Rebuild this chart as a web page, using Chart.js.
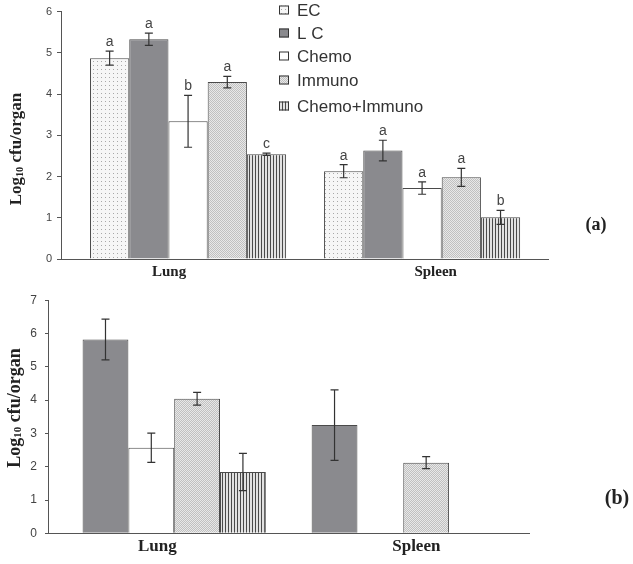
<!DOCTYPE html>
<html>
<head>
<meta charset="utf-8">
<script src="https://cdn.jsdelivr.net/npm/chart.js@4"></script>
<style>
  body { margin: 0; background: #fff; }
  #wrap { position: relative; width: 633px; height: 564px; overflow: hidden; }
  canvas { position: absolute; left: 0; }
  .ytitle {
    position: absolute; white-space: nowrap; color: #222;
    font-family: 'Liberation Serif', 'DejaVu Serif', serif; font-weight: bold;
    transform: translate(-50%, -50%) rotate(-90deg);
  }
  .ytitle sub { font-size: 0.6em; vertical-align: -0.15em; }
  .panel {
    position: absolute; color: #222;
    font-family: 'Liberation Serif', 'DejaVu Serif', serif; font-weight: bold;
    transform: translate(-50%, -50%);
  }
</style>
</head>
<body>
<div id="wrap">
  <canvas id="chartA" width="633" height="285" style="top:0"></canvas>
  <canvas id="chartB" width="633" height="279" style="top:285px"></canvas>
  <div class="ytitle" style="left:16px; top:149px; font-size:17px">Log<sub>10</sub> cfu/organ</div>
  <div class="ytitle" style="left:14px; top:408px; font-size:18px">Log<sub>10</sub> cfu/organ</div>
  <div class="panel" style="left:596px; top:224px; font-size:18px">(a)</div>
  <div class="panel" style="left:617px; top:497px; font-size:20px">(b)</div>
</div>
<script>
const organs = ['Lung', 'Spleen'];
const groups = ['EC', 'L C', 'Chemo', 'Immuno', 'Chemo+Immuno'];

// (a) means, errors and significance letters
const ecA = [4.87, 2.13];
const lcA = [5.33, 2.63];
const chemoA = [3.34, 1.72];
const immunoA = [4.29, 1.98];
const comboA = [2.54, 1.01];
const ecErrA = [0.17, 0.16];
const lcErrA = [0.15, 0.25];
const chemoErrA = [0.63, 0.15];
const immunoErrA = [0.14, 0.22];
const comboErrA = [0.03, 0.17];
const ecLetA = ['a', 'a'];
const lcLetA = ['a', 'a'];
const chemoLetA = ['b', 'a'];
const immunoLetA = ['a', 'a'];
const comboLetA = ['c', 'b'];

// (b) means and errors (no EC group, spleen has only LC and Immuno)
const lcB = [5.82, 3.25];
const chemoB = [2.57, null];
const immunoB = [4.04, 2.12];
const comboB = [1.84, null];
const lcErrB = [0.61, 1.06];
const chemoErrB = [0.44, null];
const immunoErrB = [0.19, 0.18];
const comboErrB = [0.56, null];

const yTicksA = [0, 1, 2, 3, 4, 5, 6];
const yTicksB = [0, 1, 2, 3, 4, 5, 6, 7];

function makePattern(kind) {
    const c = document.createElement('canvas');
    const g = c.getContext('2d');
    if (kind === 'dots') {
        c.width = 4; c.height = 4;
        g.fillStyle = '#f6f6f6'; g.fillRect(0, 0, 4, 4);
        g.fillStyle = '#a8a8a8'; g.fillRect(1, 1, 1, 1);
    } else if (kind === 'fine') {
        c.width = 2; c.height = 2;
        g.fillStyle = '#e8e8e8'; g.fillRect(0, 0, 2, 2);
        g.fillStyle = '#c0c0c0'; g.fillRect(0, 0, 1, 1); g.fillRect(1, 1, 1, 1);
    } else {
        c.width = 3; c.height = 3;
        g.fillStyle = '#e2e2e2'; g.fillRect(0, 0, 3, 3);
        g.fillStyle = '#4a4a4a'; g.fillRect(0, 0, 1, 3);
    }
    return g.createPattern(c, 'repeat');
}

const fills = {
    ec: makePattern('dots'),
    lc: '#8a8a8e',
    chemo: '#ffffff',
    immuno: makePattern('fine'),
    combo: makePattern('stripes')
};

function points(vals) {
    return vals.map((v, i) => ({ x: i, y: v }));
}

function ds(label, vals, errs, letters, fill) {
    return {
        label: label,
        data: points(vals),
        errs: errs,
        letters: letters || null,
        backgroundColor: fill,
        borderColor: '#4a4a4a',
        borderWidth: 1,
        borderSkipped: 'bottom',
        barPercentage: 1
    };
}

// error bars and letters above them
const errorBars = {
    id: 'errorBars',
    afterDatasetsDraw(chart) {
        const ctx = chart.ctx;
        const y = chart.scales.y;
        ctx.save();
        chart.data.datasets.forEach((d, di) => {
            const meta = chart.getDatasetMeta(di);
            meta.data.forEach((bar, i) => {
                const v = d.data[i].y;
                if (v == null) return;
                const e = d.errs[i];
                const top = y.getPixelForValue(v + e);
                const bot = y.getPixelForValue(v - e);
                ctx.strokeStyle = '#333';
                ctx.lineWidth = 1.2;
                ctx.beginPath();
                ctx.moveTo(bar.x, top); ctx.lineTo(bar.x, bot);
                ctx.moveTo(bar.x - 4, top); ctx.lineTo(bar.x + 4, top);
                ctx.moveTo(bar.x - 4, bot); ctx.lineTo(bar.x + 4, bot);
                ctx.stroke();
                if (d.letters) {
                    ctx.fillStyle = '#444';
                    ctx.font = '14px "Liberation Sans", Arial, sans-serif';
                    ctx.textAlign = 'center';
                    ctx.textBaseline = 'alphabetic';
                    ctx.fillText(d.letters[i], bar.x, top - 5);
                }
            });
        });
        ctx.restore();
    }
};

// legend list at the top of panel (a)
const sideLegend = {
    id: 'sideLegend',
    afterDraw(chart, args, opts) {
        if (!opts.show) return;
        const ctx = chart.ctx;
        const rows = [10, 33, 56, 80, 106];
        ctx.save();
        chart.data.datasets.forEach((d, i) => {
            const cy = rows[i];
            ctx.fillStyle = d.backgroundColor;
            ctx.fillRect(279, cy - 4.5, 10, 9);
            ctx.strokeStyle = '#333';
            ctx.lineWidth = 1;
            ctx.strokeRect(279.5, cy - 4, 9, 8);
            ctx.fillStyle = '#333';
            ctx.font = '17px "Liberation Sans", Arial, sans-serif';
            ctx.textAlign = 'left';
            ctx.textBaseline = 'middle';
            ctx.fillText(d.label, 297, cy + 1);
        });
        ctx.restore();
    }
};

function makeChart(id, datasets, opt) {
    return new Chart(document.getElementById(id), {
        type: 'bar',
        data: { datasets: datasets },
        plugins: [errorBars, sideLegend],
        options: {
            responsive: false,
            animation: false,
            categoryPercentage: opt.catPct,
            layout: { padding: { top: opt.top, right: opt.right, left: 0, bottom: 0 } },
            plugins: {
                legend: { display: false },
                tooltip: { enabled: false },
                sideLegend: { show: opt.legend }
            },
            scales: {
                x: {
                    type: 'linear',
                    offset: false,
                    min: opt.xMin,
                    max: opt.xMax,
                    grid: { display: false, offset: false, drawTicks: false },
                    border: { display: true, color: '#555', width: 1 },
                    afterBuildTicks: s => {
                        s.ticks = organs.map((o, i) => ({ value: i + opt.labelShift[i] }));
                    },
                    afterFit: s => { s.height = opt.xHeight; },
                    ticks: {
                        color: '#222',
                        padding: opt.xPad,
                        autoSkip: false,
                        maxRotation: 0,
                        font: { family: '"Liberation Serif", serif', weight: 'bold', size: opt.xFont },
                        callback: (v, i) => organs[i]
                    }
                },
                y: {
                    min: 0,
                    max: opt.yTicks[opt.yTicks.length - 1],
                    afterBuildTicks: s => { s.ticks = opt.yTicks.map(v => ({ value: v })); },
                    afterFit: s => { s.width = opt.yWidth; },
                    grid: { drawOnChartArea: false, drawTicks: true, tickLength: opt.tickLen, color: '#555' },
                    border: { display: true, color: '#555', width: 1 },
                    ticks: {
                        color: '#444',
                        padding: opt.yPad,
                        font: { family: '"Liberation Sans", Arial, sans-serif', size: opt.yFont }
                    }
                }
            }
        }
    });
}

makeChart('chartA', [
    ds(groups[0], ecA, ecErrA, ecLetA, fills.ec),
    ds(groups[1], lcA, lcErrA, lcLetA, fills.lc),
    ds(groups[2], chemoA, chemoErrA, chemoLetA, fills.chemo),
    ds(groups[3], immunoA, immunoErrA, immunoLetA, fills.immuno),
    ds(groups[4], comboA, comboErrA, comboLetA, fills.combo)
], {
    catPct: 0.838, top: 10.7, right: 85, xMin: -0.543, xMax: 1.538,
    labelShift: [-0.081, 0.058], xHeight: 26, xPad: 4, xFont: 15,
    yTicks: yTicksA, yWidth: 61, tickLen: 4, yPad: 5, yFont: 11, legend: true
});

makeChart('chartB', [
    ds(groups[1], lcB, lcErrB, null, fills.lc),
    ds(groups[2], chemoB, chemoErrB, null, fills.chemo),
    ds(groups[3], immunoB, immunoErrB, null, fills.immuno),
    ds(groups[4], comboB, comboErrB, null, fills.combo)
], {
    catPct: 0.8, top: 15, right: 104, xMin: -0.551, xMax: 1.549,
    labelShift: [-0.074, 0.057], xHeight: 30.7, xPad: 3, xFont: 17,
    yTicks: yTicksB, yWidth: 48, tickLen: 3, yPad: 8, yFont: 12, legend: false
});
</script>
</body>
</html>
